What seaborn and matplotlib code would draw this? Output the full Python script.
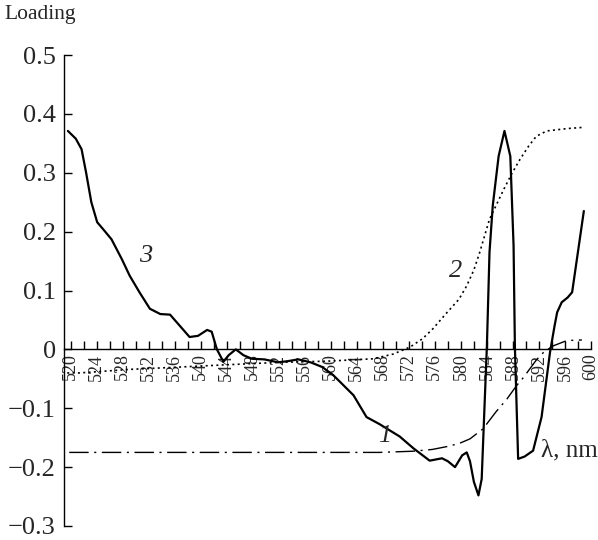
import numpy as np
import pandas as pd
import matplotlib
matplotlib.use("Agg")
import matplotlib.pyplot as plt
import seaborn as sns

# Data (wavelength in nm, loading)
wl_3 = [519.6, 520.8, 521.7, 522.4, 523.2, 524.1, 525.1, 526.3, 527.9, 529.1,
        530.6, 532.2, 533.8, 535.3, 536.8, 538.3, 539.6, 541.0, 541.7, 542.5,
        543.5, 544.3, 545.4, 546.6, 547.9, 549.8, 551.9, 553.4, 555.0, 556.9,
        558.7, 560.4, 561.5, 563.5, 565.5, 567.5, 570.6, 572.7, 575.2, 577.1,
        578.0, 579.1, 580.2, 580.9, 581.4, 582.0, 582.7, 583.2, 583.6, 584.0,
        584.4, 584.9, 585.8, 586.7, 587.6, 588.1, 588.3, 588.6, 588.8, 589.8,
        591.1, 592.4, 593.7, 594.4, 594.8, 595.5, 596.4, 597.1, 598.9]
load_3 = [0.371, 0.358, 0.340, 0.300, 0.250, 0.216, 0.203, 0.187, 0.153, 0.125,
          0.097, 0.069, 0.060, 0.059, 0.040, 0.021, 0.023, 0.033, 0.030, 0.000,
          -0.021, -0.010, 0.000, -0.010, -0.016, -0.017, -0.022, -0.020, -0.017, -0.022,
          -0.030, -0.044, -0.056, -0.078, -0.115, -0.127, -0.148, -0.168, -0.189, -0.185,
          -0.190, -0.200, -0.180, -0.175, -0.190, -0.225, -0.248, -0.220, -0.106, 0.006,
          0.165, 0.244, 0.328, 0.371, 0.328, 0.176, 0.006, -0.110, -0.186, -0.182,
          -0.172, -0.115, -0.005, 0.040, 0.063, 0.080, 0.088, 0.097, 0.235]

wl_2 = [519.5, 521.4, 529.1, 536.8, 544.3, 552.2, 559.5, 566.5, 569.6, 572.2,
        574.1, 575.7, 577.9, 579.7, 580.9, 582.0, 582.9, 584.4, 586.6, 587.8,
        589.1, 590.4, 591.6, 593.2, 596.3, 598.7]
load_2 = [-0.040, -0.040, -0.034, -0.030, -0.026, -0.022, -0.020, -0.016, -0.008, 0.004,
          0.018, 0.035, 0.063, 0.085, 0.108, 0.135, 0.165, 0.221, 0.272, 0.298,
          0.323, 0.345, 0.362, 0.371, 0.375, 0.377]

wl_1 = [519.8, 529.1, 539.2, 549.3, 559.5, 567.5, 572.6, 575.6, 577.9, 579.7,
        581.4, 583.4, 585.4, 587.1, 588.6, 589.6, 591.6, 592.8, 594.2, 596.3, 598.6]
load_1 = [-0.175, -0.175, -0.175, -0.175, -0.175, -0.175, -0.173, -0.170, -0.165, -0.160,
          -0.152, -0.135, -0.106, -0.084, -0.061, -0.048, -0.018, -0.004, 0.006, 0.015, 0.016]

x_ticks = list(range(520, 601, 2))
x_tick_labels = [str(v) if v % 4 == 0 else "" for v in x_ticks]
y_ticks = [-0.3, -0.2, -0.1, 0, 0.1, 0.2, 0.3, 0.4, 0.5]
y_tick_labels = ["\u22120.3", "\u22120.2", "\u22120.1", "0", "0.1", "0.2", "0.3", "0.4", "0.5"]

sns.set_style("white")
plt.rcParams['font.family'] = ['Liberation Serif', 'DejaVu Serif']

fig = plt.figure(figsize=(5.98, 5.40), dpi=100)
ax = fig.add_axes([64 / 598, 1 - 526 / 540, 527 / 598, 471 / 540])

sns.lineplot(x=wl_1, y=load_1, ax=ax, color="black", lw=1.0, estimator=None,
             linestyle=(0, (14, 4, 1.5, 4)))
sns.lineplot(x=wl_2, y=load_2, ax=ax, color="black", lw=1.2, estimator=None,
             linestyle=(0, (1.2, 2.0)))
sns.lineplot(x=wl_3, y=load_3, ax=ax, color="black", lw=1.6, estimator=None)

ax.set_xlim(519.0, 600)
ax.set_ylim(-0.3, 0.5)
ax.spines['top'].set_visible(False)
ax.spines['right'].set_visible(False)
ax.spines['bottom'].set_position(('data', 0))
for s in ['left', 'bottom']:
    ax.spines[s].set_linewidth(1.0)
    ax.spines[s].set_color("black")

ax.set_xticks(x_ticks)
ax.set_xticklabels(x_tick_labels, rotation=90, fontsize=13)
ax.set_yticks(y_ticks)
ax.set_yticklabels(y_tick_labels, fontsize=19)
ax.tick_params(axis='x', direction='in', length=6, width=1.0, pad=3, color="black")
ax.tick_params(axis='y', direction='in', length=5.5, width=1.0, pad=6, color="black")
ax.tick_params(bottom=True, left=True)

for lbl, (lx, ly) in zip(["3", "2", "1"], [(531.5, 0.159), (579.2, 0.133), (568.3, -0.147)]):
    ax.text(lx, ly, lbl, fontsize=19, style='italic', ha='center', va='center')

ax.text(601, -0.172, "\u03bb, nm", fontsize=18, ha='right', va='center', clip_on=False)
fig.text(4 / 598, 1 - 15 / 540, "Loading", fontsize=15.5, ha='left', va='center')

fig.savefig("out.png", dpi=100)
